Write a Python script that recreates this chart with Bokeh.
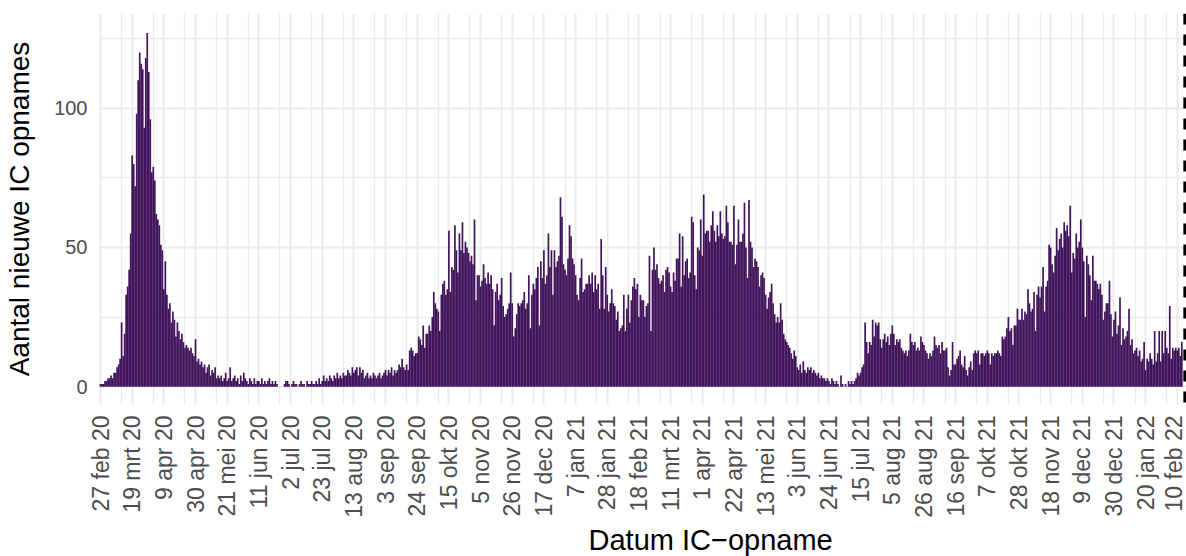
import numpy as np
import pandas as pd
from bokeh.plotting import figure
from bokeh.models import Range1d, FixedTicker, Span, Title
from bokeh.embed import file_html
from bokeh.resources import INLINE

# ---------------- data ----------------
start_date = "2020-02-27"
report_date = "2022-02-15"

# daily new IC admissions, 27 feb 2020 .. 31 dec 2020
ic_2020 = [
    1, 1, 1, 2, 2, 3, 3, 4, 3, 5,
    5, 7, 8, 10, 23, 11, 19, 33, 36, 42,
    55, 83, 80, 72, 98, 110, 120, 116, 114, 93,
    118, 127, 113, 96, 77, 79, 74, 62, 60, 58,
    51, 49, 35, 45, 33, 28, 30, 23, 27, 24,
    18, 23, 20, 17, 19, 16, 14, 15, 14, 13,
    14, 12, 11, 17, 9, 10, 8, 9, 7, 8,
    5, 7, 8, 4, 6, 5, 7, 3, 4, 3,
    4, 2, 3, 5, 2, 3, 7, 2, 3, 4,
    2, 3, 1, 4, 2, 5, 3, 2, 1, 3,
    2, 1, 3, 1, 2, 2, 1, 3, 1, 2,
    1, 2, 3, 1, 2, 1, 2, 1, 0, 0,
    0, 0, 1, 2, 2, 1, 0, 1, 2, 1,
    1, 0, 1, 2, 1, 1, 0, 2, 1, 1,
    2, 1, 1, 2, 1, 3, 1, 2, 4, 2,
    3, 2, 4, 3, 2, 4, 3, 5, 3, 4,
    3, 5, 4, 4, 6, 5, 4, 7, 5, 6,
    7, 4, 7, 5, 6, 3, 4, 5, 3, 4,
    3, 5, 4, 3, 4, 5, 3, 4, 5, 6,
    4, 6, 5, 7, 4, 6, 5, 6, 8, 7,
    10, 7, 6, 8, 6, 13, 14, 13, 11, 12,
    12, 18, 17, 15, 22, 14, 19, 19, 22, 20,
    25, 34, 30, 28, 27, 20, 33, 37, 38, 33,
    35, 56, 34, 43, 42, 58, 49, 41, 55, 49,
    59, 48, 52, 50, 48, 45, 47, 44, 60, 31,
    40, 40, 36, 38, 44, 39, 37, 41, 37, 40,
    35, 22, 34, 37, 31, 33, 39, 29, 25, 26,
    28, 30, 41, 30, 18, 21, 26, 30, 29, 30,
    31, 34, 28, 30, 40, 21, 33, 37, 35, 39,
    43, 22, 45, 39, 49, 37, 40, 55, 43, 49,
    33, 49, 43, 45, 47, 68, 61, 44, 42,
]

# 1 jan 2021 .. 31 dec 2021
ic_2021 = [
    40,
    46, 58, 54, 46, 44, 40, 33, 31, 39, 46,
    34, 35, 37, 37, 40, 37, 41, 34, 40, 35,
    37, 28, 53, 40, 28, 43, 33, 27, 30, 35,
    30, 29, 24, 27, 20, 21, 22, 33, 20, 28,
    33, 23, 31, 36, 39, 35, 37, 25, 33, 31,
    31, 25, 29, 30, 47, 20, 42, 50, 42, 44,
    39, 37, 38, 40, 34, 42, 43, 41, 36, 34,
    41, 38, 46, 46, 55, 36, 54, 40, 45, 46,
    39, 41, 61, 59, 40, 35, 50, 49, 60, 47,
    69, 55, 56, 56, 52, 58, 63, 56, 52, 58,
    54, 63, 55, 53, 54, 65, 59, 52, 52, 51,
    65, 44, 51, 60, 52, 52, 55, 66, 50, 39,
    67, 52, 50, 43, 46, 45, 43, 36, 40, 41,
    39, 33, 28, 32, 34, 37, 30, 26, 23, 25,
    23, 30, 24, 19, 17, 16, 15, 14, 12, 10,
    13, 11, 7, 6, 8, 5, 9, 6, 5, 7,
    6, 7, 5, 6, 5, 4, 5, 3, 4, 3,
    3, 2, 3, 2, 1, 3, 2, 1, 2, 1,
    0, 4, 1, 0, 1, 0, 2, 1, 2, 1,
    2, 3, 5, 4, 5, 7, 8, 23, 16, 12,
    16, 15, 24, 18, 23, 22, 23, 17, 14, 17,
    19, 16, 18, 15, 19, 22, 19, 15, 17, 16,
    17, 14, 13, 12, 13, 11, 13, 19, 16, 15,
    16, 13, 14, 13, 18, 16, 15, 13, 12, 10,
    12, 11, 13, 18, 15, 14, 15, 12, 16, 13,
    13, 14, 7, 4, 6, 16, 8, 8, 10, 11,
    13, 8, 7, 11, 6, 4, 7, 9, 6, 12,
    13, 12, 13, 8, 12, 12, 11, 12, 13, 12,
    8, 12, 11, 12, 12, 13, 12, 11, 18, 17,
    18, 21, 25, 20, 21, 15, 22, 22, 28, 24,
    24, 28, 24, 27, 26, 35, 30, 27, 28, 34,
    20, 33, 36, 32, 36, 43, 27, 36, 38, 51,
    50, 44, 41, 47, 57, 49, 53, 55, 50, 59,
    56, 58, 54, 65, 41, 48, 46, 55, 50, 52,
    60, 50, 45, 25, 47, 44, 40, 31, 47, 38,
    38, 37, 35, 37, 33, 24, 27, 30, 30, 38,
    26, 18, 24, 27,
]

# 1 jan 2022 .. 13 feb 2022
ic_2022 = [
    19, 22, 32, 15, 21, 17,
    18, 20, 28, 15, 17, 12, 13, 14, 11, 13,
    9, 10, 16, 6, 10, 9, 12, 10, 8, 20,
    9, 12, 20, 9, 20, 12, 20, 14, 12, 29,
    10, 14, 13, 14, 13, 14, 11, 16,
]

tick_labels = [
    "27 feb 20", "19 mrt 20", "9 apr 20", "30 apr 20", "21 mei 20", "11 jun 20",
    "2 jul 20", "23 jul 20", "13 aug 20", "3 sep 20", "24 sep 20", "15 okt 20",
    "5 nov 20", "26 nov 20", "17 dec 20", "7 jan 21", "28 jan 21", "18 feb 21",
    "11 mrt 21", "1 apr 21", "22 apr 21", "13 mei 21", "3 jun 21", "24 jun 21",
    "15 jul 21", "5 aug 21", "26 aug 21", "16 sep 21", "7 okt 21", "28 okt 21",
    "18 nov 21", "9 dec 21", "30 dec 21", "20 jan 22", "10 feb 22",
]
y_ticks = [0, 50, 100]
y_minor_ticks = [25, 75, 125]

# ---------------- derived ----------------
values = ic_2020 + ic_2021 + ic_2022
start = pd.Timestamp(start_date)
dates = pd.date_range(start, periods=len(values), freq="D")
day = np.array((dates - start).days, dtype=float)

tick_dates = pd.date_range(start, periods=len(tick_labels), freq="21D")
major = [float((d - start).days) for d in tick_dates]
minor = [m + 14 for m in major]
report_day = float((pd.Timestamp(report_date) - start).days)

FONT = "Liberation Sans"
BAR = "#40135A"
GRID = "#EBEBEB"

p = figure(
    width=1186, height=556,
    output_backend="svg", toolbar_location=None,
    x_range=Range1d(-1.33, 720.1), y_range=Range1d(-6.4, 134),
    min_border_left=98, min_border_right=0, min_border_top=13, min_border_bottom=150,
)
p.outline_line_color = None
p.background_fill_color = "white"
p.border_fill_color = "white"

p.vbar(x=day, top=values, width=1.12, fill_color=BAR, line_color=None)

p.add_layout(Span(location=report_day, dimension="height", line_color="black",
                  line_width=3, line_dash="11 10"))

# x axis
p.xaxis.ticker = FixedTicker(ticks=major, minor_ticks=minor)
p.xaxis.major_label_overrides = {m: lab for m, lab in zip(major, tick_labels)}
p.xaxis.major_label_orientation = np.pi / 2

# y axis
p.yaxis.ticker = FixedTicker(ticks=y_ticks, minor_ticks=y_minor_ticks)
p.yaxis.axis_label = "Aantal nieuwe IC opnames"

for ax in (p.xaxis[0], p.yaxis[0]):
    ax.axis_line_color = None
    ax.major_tick_line_color = None
    ax.minor_tick_line_color = None
    ax.major_label_text_font = FONT
    ax.major_label_text_color = "#4D4D4D"
    ax.major_label_standoff = 5
    ax.axis_label_text_font = FONT
    ax.axis_label_text_font_size = "28px"
    ax.axis_label_text_font_style = "normal"
    ax.axis_label_text_color = "black"
p.xaxis.major_label_text_font_size = "23px"
p.yaxis.major_label_text_font_size = "20px"
p.yaxis.axis_label_standoff = 16

# x-axis title (the original panel continues past the right edge, so the
# title sits right of this frame's centre)
p.add_layout(Title(text="Datum IC\u2212opname", align="left", offset=490,
                   text_font=FONT, text_font_size="29px", text_font_style="normal",
                   text_color="black", standoff=2), "below")

for g in (p.xgrid[0], p.ygrid[0]):
    g.grid_line_color = GRID
    g.grid_line_width = 2
    g.minor_grid_line_color = GRID
    g.minor_grid_line_width = 1.3

open("out.html", "w").write(file_html(p, INLINE))
